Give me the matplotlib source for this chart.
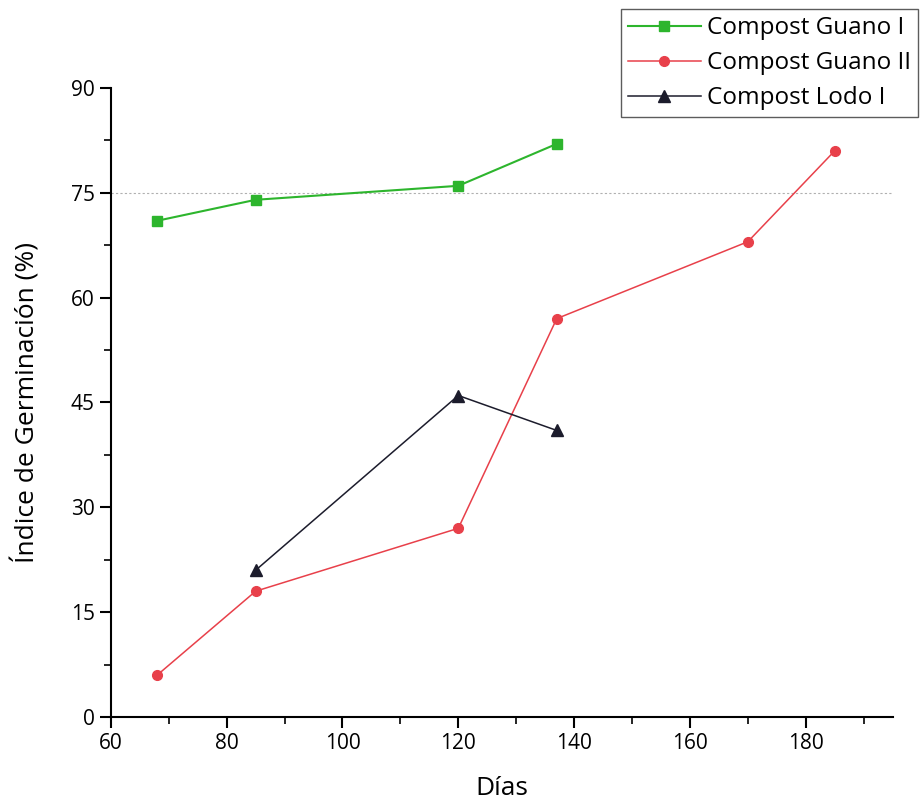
import matplotlib.pyplot as plt

plt.rcParams['font.family'] = ['Open Sans', 'DejaVu Sans']

# Germination index per compost over time
dias_guano1 = [68, 85, 120, 137]
ig_guano1 = [71, 74, 76, 82]

dias_guano2 = [68, 85, 120, 137, 170, 185]
ig_guano2 = [6, 18, 27, 57, 68, 81]

dias_lodo1 = [85, 120, 137]
ig_lodo1 = [21, 46, 41]

fig = plt.figure(figsize=(9.24, 8.07), dpi=100)
ax = fig.add_axes([0.120, 0.1115, 0.846, 0.7795])

ax.axhline(75, color='#b0b0b0', linestyle=(0, (2, 2)), linewidth=0.8, zorder=1)

l1, = ax.plot(dias_guano1, ig_guano1, color='#2db52d', marker='s', markersize=7,
              linewidth=1.5, label='Compost Guano I')
l2, = ax.plot(dias_guano2, ig_guano2, color='#e8404a', marker='o', markersize=7,
              linewidth=1.1, label='Compost Guano II')
l3, = ax.plot(dias_lodo1, ig_lodo1, color='#1c1c2c', marker='^', markersize=8,
              linewidth=1.1, label='Compost Lodo I')

ax.set_xlim(60, 195)
ax.set_ylim(0, 90)
ax.set_xticks(range(60, 181, 20))
ax.set_xticks(range(70, 191, 20), minor=True)
ax.set_yticks(range(0, 91, 15))
ax.set_yticks([7.5 + 15 * i for i in range(6)], minor=True)

for s in ['top', 'right']:
    ax.spines[s].set_visible(False)
ax.spines['left'].set_linewidth(1.5)
ax.spines['bottom'].set_linewidth(1.5)
ax.tick_params(which='major', direction='out', length=8, width=1.5, labelsize=15)
ax.tick_params(which='minor', direction='out', length=5, width=1.2)

ax.set_xlabel('Días', fontsize=19, labelpad=16)
ax.set_ylabel('Índice de Germinación (%)', fontsize=19, labelpad=22)

leg = fig.legend(handles=[l1, l2, l3], loc='upper right', bbox_to_anchor=(0.999, 0.995),
                 fontsize=17.5, frameon=True, fancybox=False, edgecolor='#333333',
                 handlelength=3.0, borderpad=0.3, labelspacing=0.45, handletextpad=0.25,
                 borderaxespad=0.2)
leg.get_frame().set_linewidth(1.0)

fig.savefig('out.png', dpi=100)
